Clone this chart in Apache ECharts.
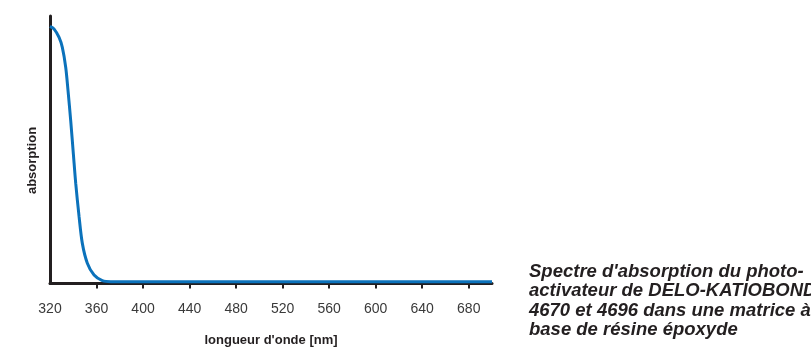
<!DOCTYPE html>
<html><head><meta charset="utf-8">
<script src="https://cdn.jsdelivr.net/npm/echarts@6/dist/echarts.min.js"></script>
<style>html,body{margin:0;padding:0;background:#fff}#c{width:811px;height:349px}</style>
</head><body><div id="c"></div>
<script>
const wavelengths = [320, 323.4, 327.8, 330.6, 333.5, 335.5, 337.8, 340.1, 342.1, 345.0, 347.8, 352.1, 357.9, 365.0, 372.3, 400, 450, 500, 550, 600, 650, 700];
const absorption = [1.0, 0.99, 0.957, 0.918, 0.841, 0.75, 0.633, 0.503, 0.39, 0.26, 0.156, 0.079, 0.033, 0.011, 0.007, 0.007, 0.007, 0.007, 0.007, 0.007, 0.007, 0.007];
const tickValues = [360, 400, 440, 480, 520, 560, 600, 640, 680];
const labelValues = [320, 360, 400, 440, 480, 520, 560, 600, 640, 680];
const xName = "longueur d'onde [nm]";
const yName = "absorption";
const caption = "Spectre d'absorption du photo-\nactivateur de DELO-KATIOBOND\n4670 et 4696 dans une matrice à\nbase de résine époxyde";

const chart = echarts.init(document.getElementById('c'), null, {renderer: 'canvas'});
chart.setOption({
  animation: false,
  backgroundColor: '#fff',
  grid: {left: 50, top: 16, right: 319, bottom: 65.5, containLabel: false, outerBoundsMode: 'none'},
  xAxis: {
    type: 'value', min: 320, max: 700, interval: 40,
    name: xName, nameLocation: 'middle', nameGap: 50,
    nameTextStyle: {fontFamily: 'Liberation Sans, Arial, sans-serif', fontWeight: 'bold', fontSize: 13, color: '#231f20'},
    axisLine: {show: true, onZero: false, lineStyle: {color: '#231f20', width: 3}},
    axisTick: {show: true, customValues: tickValues, length: 5, lineStyle: {color: '#231f20', width: 2}},
    axisLabel: {customValues: labelValues, margin: 19, fontSize: 14, color: '#3a3a3a', fontFamily: 'Liberation Sans, Arial, sans-serif'},
    splitLine: {show: false}
  },
  yAxis: {
    type: 'value', min: 0, max: 1.04,
    axisLine: {show: true, lineStyle: {color: '#231f20', width: 3}},
    axisTick: {show: false}, axisLabel: {show: false}, splitLine: {show: false}
  },
  series: [{
    type: 'line', smooth: 0.3, showSymbol: false,
    data: wavelengths.map((w, i) => [w, absorption[i]]),
    lineStyle: {color: '#0b72bb', width: 3}, z: 3
  }],
  graphic: [
    {type: 'text', x: 32, y: 160.5, rotation: Math.PI / 2,
     style: {text: yName, font: 'bold 13px "Liberation Sans", Arial, sans-serif', fill: '#231f20', textAlign: 'center', textVerticalAlign: 'middle'}},
    {type: 'text', x: 529, y: 262,
     style: {text: caption, font: 'italic bold 18.5px "Liberation Sans", Arial, sans-serif', fill: '#231f20', lineHeight: 19.4}}
  ]
});
</script>
</body></html>
